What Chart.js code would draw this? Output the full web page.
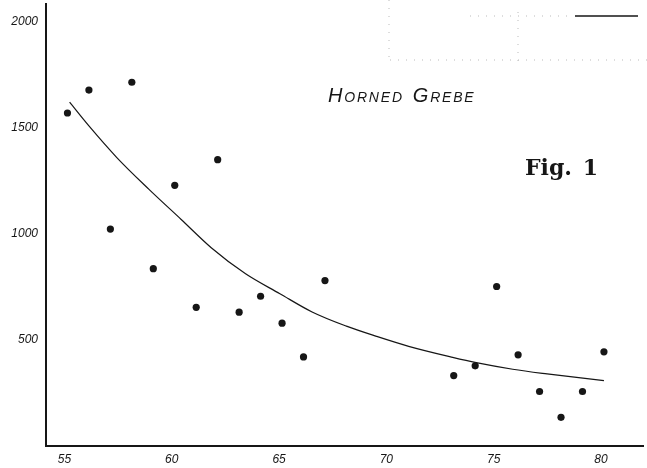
<!DOCTYPE html>
<html>
<head>
<meta charset="utf-8">
<script src="https://cdn.jsdelivr.net/npm/chart.js"></script>
<style>
html, body { margin: 0; padding: 0; background: #fff; }
#wrap { width: 647px; height: 468px; }
</style>
</head>
<body>
<div id="wrap"><canvas id="grebe" width="647" height="468"></canvas></div>
<script>
// yearly counts (dots)
const years  = [55, 56, 57, 58, 59, 60, 61, 62, 63, 64, 65, 66, 67, 73, 74, 75, 76, 77, 78, 79, 80];
const counts = [1570, 1678, 1023, 1715, 836, 1229, 654, 1350, 631, 706, 579, 420, 780, 332, 378, 752, 430, 257, 135, 257, 444];

// hand drawn trend curve, sampled along the line
const trendYears  = [55.1, 56.0, 57.3, 58.8, 60.3, 61.7, 63.3, 64.9, 66.4, 68.0, 69.4, 70.9, 72.95, 74.05, 75.75, 77.35, 80.0];
const trendCounts = [1621, 1509, 1360, 1210, 1068, 935, 812, 718, 632, 565, 517, 470, 418, 393, 362, 340, 308];

const xTicks = [55, 60, 65, 70, 75, 80];
const yTicks = [500, 1000, 1500, 2000];

const INK = '#161616';
const handFont = '"Liberation Sans", sans-serif';

function smallCaps(ctx, text, x, y, big, small, spacing){
    var words = text.split(' ');
    words.forEach(function(w){
        ctx.font = `italic ${big}px ${handFont}`;
        ctx.fillText(w[0], x, y);
        x += ctx.measureText(w[0]).width + spacing;
        ctx.font = `italic ${small}px ${handFont}`;
        for(var i = 1; i < w.length; i++){
            ctx.fillText(w[i], x, y);
            x += ctx.measureText(w[i]).width + spacing;
        }
        x += 9;
    });
}

const notes = {
    id: 'notes',
    afterDraw(chart){
        var ctx = chart.ctx;
        ctx.save();
        ctx.fillStyle = INK;
        ctx.textBaseline = 'alphabetic';
        ctx.textAlign = 'left';
        smallCaps(ctx, 'HORNED GREBE', 328, 102, 20, 14, 1.8);

        ctx.font = 'bold 22px "DejaVu Serif", serif';
        ctx.fillText('Fig.', 525, 175);
        ctx.textAlign = 'right';
        ctx.fillText('1', 598, 175);

        // scanning leftovers at the top right
        ctx.strokeStyle = INK;
        ctx.lineWidth = 1.5;
        ctx.beginPath();
        ctx.moveTo(575, 16);
        ctx.lineTo(638, 16);
        ctx.stroke();
        ctx.strokeStyle = '#bbb';
        ctx.lineWidth = 1;
        ctx.setLineDash([1, 7]);
        ctx.beginPath();
        ctx.moveTo(389, 0); ctx.lineTo(389, 62);
        ctx.moveTo(470, 16); ctx.lineTo(570, 16);
        ctx.moveTo(518, 12); ctx.lineTo(518, 62);
        ctx.moveTo(390, 60); ctx.lineTo(647, 60);
        ctx.stroke();
        ctx.restore();
    }
};

new Chart(document.getElementById('grebe'), {
    type: 'scatter',
    data: {
        datasets: [{
            type: 'line',
            data: trendYears.map((v, i) => ({x: v, y: trendCounts[i]})),
            borderColor: INK,
            borderWidth: 1.2,
            pointRadius: 0,
            fill: false,
            cubicInterpolationMode: 'monotone'
        }, {
            data: years.map((v, i) => ({x: v, y: counts[i]})),
            backgroundColor: INK,
            borderWidth: 0,
            pointRadius: 3.6
        }]
    },
    options: {
        responsive: false,
        animation: false,
        layout: { padding: 0 },
        plugins: { legend: { display: false }, tooltip: { enabled: false } },
        scales: {
            x: {
                type: 'linear',
                min: 54,
                max: 81.82,
                afterBuildTicks: s => { s.ticks = xTicks.map(v => ({value: v})); },
                afterFit: s => { s.height = 22; s.paddingLeft = 0; s.paddingRight = 0; },
                grid: { drawOnChartArea: false, drawTicks: false },
                border: { color: INK, width: 2 },
                ticks: {
                    color: INK,
                    padding: 6,
                    labelOffset: -3,
                    maxRotation: 0,
                    autoSkip: false,
                    font: { family: handFont, style: 'italic', size: 12 }
                }
            },
            y: {
                min: 0,
                max: 2084,
                afterBuildTicks: s => { s.ticks = yTicks.map(v => ({value: v})); },
                afterFit: s => { s.width = 46; s.paddingTop = 0; s.paddingBottom = 0; },
                grid: { drawOnChartArea: false, drawTicks: false },
                border: { color: INK, width: 2 },
                ticks: {
                    color: INK,
                    padding: 8,
                    callback: v => String(v),
                    font: { family: handFont, style: 'italic', size: 12 }
                }
            }
        }
    },
    plugins: [notes]
});
</script>
</body>
</html>
